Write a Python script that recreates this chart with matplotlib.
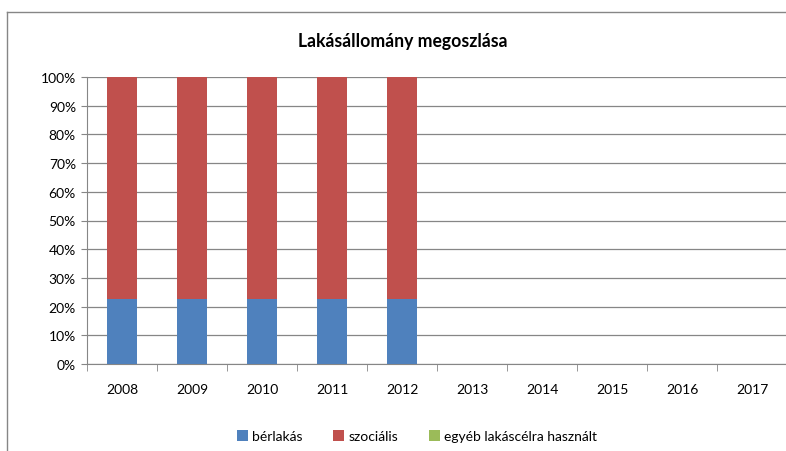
import numpy as np
import matplotlib
matplotlib.use("Agg")
import matplotlib.pyplot as plt
from matplotlib.lines import Line2D

years = ["2008", "2009", "2010", "2011", "2012", "2013", "2014", "2015", "2016", "2017"]
# arányok (%), 2013-tól nincs adat
berlakas = [22.7, 22.7, 22.7, 22.7, 22.7, np.nan, np.nan, np.nan, np.nan, np.nan]
szocialis = [77.3, 77.3, 77.3, 77.3, 77.3, np.nan, np.nan, np.nan, np.nan, np.nan]
egyeb = [0, 0, 0, 0, 0, np.nan, np.nan, np.nan, np.nan, np.nan]
labels = ["bérlakás", "szociális", "egyéb lakáscélra használt"]
colors = ["#4F81BD", "#C0504D", "#9BBB59"]

plt.rcParams["font.family"] = ["Lato", "DejaVu Sans"]

fig = plt.figure(figsize=(7.86, 4.52), dpi=100)
ax = fig.add_axes([87 / 786, 1 - 365 / 452, 700 / 786, 287 / 452])

x = np.arange(len(years))
b1 = np.array(berlakas)
b2 = np.array(szocialis)
b3 = np.array(egyeb)
w = 0.42
ax.bar(x, b1, w, color=colors[0], label=labels[0], zorder=3)
ax.bar(x, b2, w, bottom=b1, color=colors[1], label=labels[1], zorder=3)
ax.bar(x, b3, w, bottom=b1 + b2, color=colors[2], label=labels[2], zorder=3)

ax.set_xlim(-0.5, len(years) - 0.5)
ax.set_ylim(0, 100)
ax.set_yticks(range(0, 101, 10))
ax.set_yticklabels([f"{v}%" for v in range(0, 101, 10)], fontsize=10)
ax.set_xticks(x)
ax.set_xticklabels(years, fontsize=10)
ax.set_xticks(np.arange(-0.5, len(years), 1), minor=True)
ax.tick_params(axis="x", which="major", length=0, pad=14)
ax.tick_params(axis="x", which="minor", length=5, color="#868686")
ax.tick_params(axis="y", length=4, color="#868686", pad=4)
ax.grid(axis="y", color="#868686", linewidth=0.9, zorder=0)
for s in ["top", "right"]:
    ax.spines[s].set_visible(False)
for s in ["left", "bottom"]:
    ax.spines[s].set_color("#868686")

fig.text(0.5 + 10 / 786, 1 - 42 / 452, "Lakásállomány megoszlása", ha="center", va="center",
         fontsize=12.7, fontweight="bold")

fig.legend(loc="center", bbox_to_anchor=(417 / 786, 1 - 437 / 452), ncol=3,
           frameon=False, fontsize=10, handlelength=0.8, handleheight=0.8,
           handletextpad=0.3, columnspacing=2.2)

# külső keret
top = 1 - 13 / 452
fig.add_artist(Line2D([7 / 786, 1], [top, top], color="#868686", lw=1))
fig.add_artist(Line2D([7 / 786, 7 / 786], [0, top], color="#868686", lw=1))

fig.savefig("out.png", dpi=100)
